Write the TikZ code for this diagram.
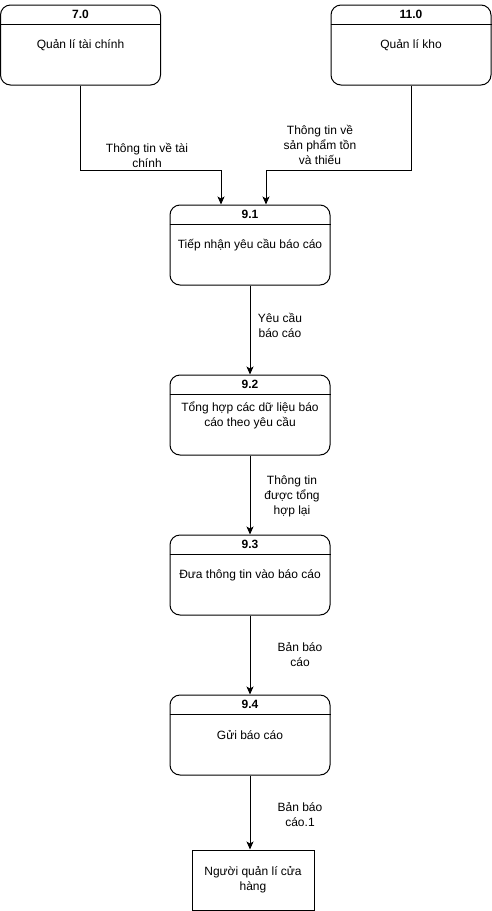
\documentclass[tikz,border=0pt]{standalone}
\usepackage{fontspec}
\setmainfont{Liberation Sans}
\usetikzlibrary{arrows.meta}
\tikzset{
  proc/.style={draw, rounded corners=10pt, minimum width=160pt, minimum height=80pt, inner sep=0pt, line width=1pt, align=center, font=\fontsize{12}{15}\selectfont},
  ent/.style={draw, minimum width=122pt, minimum height=60pt, inner sep=0pt, line width=1pt, align=center, font=\fontsize{12}{15}\selectfont},
  lbl/.style={align=center, inner sep=0pt, font=\fontsize{12}{15}\selectfont},
  ttl/.style={inner sep=0pt, font=\fontsize{12}{15}\selectfont\bfseries},
  arr/.style={line width=1pt, -{Stealth[length=8pt,width=7pt,inset=2pt]}},
  ln/.style={line width=1pt}
}
\newcommand{\procbox}[4]{%
  \node[proc] (#1) at (#2) {#4};
  \draw[ln] ([yshift=-20pt]#1.north west) -- ([yshift=-20pt]#1.north east);
  \node[ttl] at ([yshift=-10pt]#1.north) {#3};
}
\begin{document}
\begin{tikzpicture}[x=1pt,y=-1pt]
\useasboundingbox (0,0) rectangle (492,911);
\procbox{p70}{80.5,45}{7.0}{Quản lí tài chính}
\procbox{p110}{411,45}{11.0}{Quản lí kho}
\procbox{p91}{250,245}{9.1}{Tiếp nhận yêu cầu báo cáo}
\procbox{p92}{250,415}{9.2}{Tổng hợp các dữ liệu báo\\cáo theo yêu cầu}
\procbox{p93}{250,575}{9.3}{Đưa thông tin vào báo cáo}
\procbox{p94}{250,735}{9.4}{Gửi báo cáo}
\node[ent] (e1) at (253,880) {Người quản lí cửa\\hàng};
\coordinate (j1) at (221,170);
\coordinate (j2) at (266,170);
\draw[arr] (p70.south) |- (j1) -- (j1 |- p91.north);
\draw[arr] (p110.south) |- (j2) -- (j2 |- p91.north);
\draw[arr] (p91.south) -- (p92.north);
\draw[arr] (p92.south) -- (p93.north);
\draw[arr] (p93.south) -- (p94.north);
\draw[arr] (p94.south) -- (p94.south |- e1.north);
\node[lbl] at (147,155) {Thông tin về tài\\chính};
\node[lbl] at (320,145) {Thông tin về\\sản phẩm tồn\\và thiếu};
\node[lbl] at (280,325) {Yêu cầu\\báo cáo};
\node[lbl] at (292,496) {Thông tin\\được tổng\\hợp lại};
\node[lbl] at (300,655) {Bản báo\\cáo};
\node[lbl] at (300,815) {Bản báo\\cáo.1};
\end{tikzpicture}
\end{document}
